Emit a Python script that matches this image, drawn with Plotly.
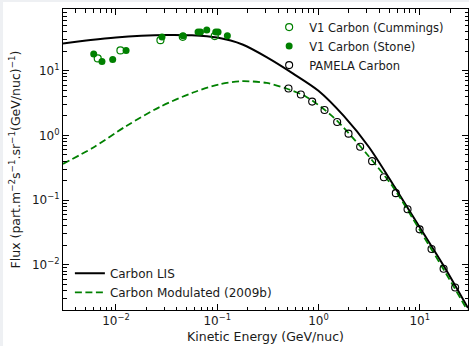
import plotly.graph_objects as go

# Carbon local interstellar spectrum (kinetic energy per nucleon, flux)
lis_energy = [0.003, 0.00562, 0.01, 0.01778, 0.03162, 0.05623, 0.1, 0.1778, 0.3162,
              0.5623, 1.0, 1.778, 3.162, 5.623, 10.0, 17.78, 30.0]
lis_flux = [26.3, 29.8, 32.7, 34.7, 35.7, 35.3, 32.5, 25.4, 15.8,
            9.02, 4.90, 2.00, 0.656, 0.162, 0.0380, 0.00891, 0.00214]

# Carbon spectrum modulated to 2009 conditions
mod_energy = [0.003, 0.00593, 0.01268, 0.0271, 0.0578, 0.106, 0.174, 0.307,
              0.483, 0.762, 1.40, 2.99, 5.47, 9.98, 17.2, 30.0]
mod_flux = [0.363, 0.646, 1.40, 2.75, 4.60, 6.18, 6.89, 6.47,
            5.31, 3.93, 1.92, 0.521, 0.158, 0.0347, 0.00851, 0.00191]

# Voyager 1 carbon (Cummings et al.)
cummings_energy = [0.00661, 0.01107, 0.0275, 0.0457, 0.0946]
cummings_flux = [15.5, 20.6, 29.7, 33.4, 34.3]

# Voyager 1 carbon (Stone et al.)
stone_energy = [0.00603, 0.00728, 0.00929, 0.01259, 0.0285, 0.0460,
                0.0647, 0.0684, 0.0789, 0.0968, 0.102, 0.126]
stone_flux = [18.2, 13.9, 14.9, 20.6, 33.1, 34.7,
              39.6, 39.6, 42.5, 39.6, 39.6, 34.7]

# PAMELA carbon
pamela_energy = [0.506, 0.670, 0.867, 1.148, 1.531, 1.982, 2.582, 3.388,
                 4.426, 5.808, 7.586, 9.977, 13.09, 17.22, 22.39]
pamela_flux = [5.31, 4.29, 3.33, 2.47, 1.61, 1.064, 0.668, 0.400,
               0.226, 0.128, 0.0721, 0.0353, 0.0175, 0.00867, 0.00446]

major_ticks = [0.01, 0.1, 1, 10]
x_tick_labels = ["10<sup>−2</sup>", "10<sup>−1</sup>", "10<sup>0</sup>", "10<sup>1</sup>"]
y_tick_labels = ["10<sup>−2</sup>", "10<sup>−1</sup>", "10<sup>0</sup>", "10<sup>1</sup>"]

GREEN = "#008000"
TEXT = "#1a1a1a"
FONT = "DejaVu Sans"


def minor_values(lo_exp, hi_exp):
    vals = []
    for e in range(lo_exp, hi_exp + 1):
        for m in range(2, 10):
            vals.append(m * 10.0 ** e)
    return vals


fig = go.Figure()

fig.add_trace(go.Scatter(
    x=lis_energy, y=lis_flux, mode="lines", name="Carbon LIS",
    line=dict(color="black", width=2, shape="spline", smoothing=0.8),
    legend="legend2"))
fig.add_trace(go.Scatter(
    x=mod_energy, y=mod_flux, mode="lines", name="Carbon Modulated (2009b)",
    line=dict(color=GREEN, width=1.8, dash="7px,3.5px", shape="spline", smoothing=0.8),
    legend="legend2"))

fig.add_trace(go.Scatter(
    x=cummings_energy, y=cummings_flux, mode="markers", name="V1 Carbon (Cummings)",
    marker=dict(symbol="circle-open", size=7, color=GREEN, line=dict(width=1.2)),
    legend="legend"))
fig.add_trace(go.Scatter(
    x=stone_energy, y=stone_flux, mode="markers", name="V1 Carbon (Stone)",
    marker=dict(symbol="circle", size=7, color=GREEN),
    legend="legend"))
fig.add_trace(go.Scatter(
    x=pamela_energy, y=pamela_flux, mode="markers", name="PAMELA Carbon",
    marker=dict(symbol="circle-open", size=7, color="black", line=dict(width=1.1)),
    legend="legend"))

axis_common = dict(
    type="log", showgrid=False, zeroline=False,
    showline=True, linecolor="black", linewidth=1, mirror="allticks",
    ticks="inside", ticklen=6, tickwidth=1, tickcolor="black",
    tickmode="array", tickvals=major_ticks,
    tickfont=dict(family=FONT, size=12, color=TEXT),
)

fig.update_xaxes(
    **axis_common,
    range=[-2.5229, 1.4771],
    ticktext=x_tick_labels,
    minor=dict(tickmode="array", tickvals=minor_values(-3, 1), ticks="inside",
               ticklen=3.5, tickwidth=1, tickcolor="black"),
    title=dict(text="Kinetic Energy (GeV/nuc)", font=dict(family=FONT, size=12.5, color=TEXT),
               standoff=4),
)
fig.update_yaxes(
    **axis_common,
    range=[-2.699, 1.954],
    ticktext=y_tick_labels,
    minor=dict(tickmode="array", tickvals=minor_values(-3, 1), ticks="inside",
               ticklen=3.5, tickwidth=1, tickcolor="black"),
    title=dict(text="Flux (part.m<sup>−2</sup>s<sup>−1</sup>.sr<sup>−1</sup>(GeV/nuc)<sup>−1</sup>)",
               font=dict(family=FONT, size=12.5, color=TEXT), standoff=8),
)

fig.update_layout(
    width=469, height=346,
    margin=dict(l=63, r=1, t=9, b=36),
    paper_bgcolor="#eef0f3", plot_bgcolor="white",
    font=dict(family=FONT, size=12, color=TEXT),
    legend=dict(x=0.509, y=0.988, xanchor="left", yanchor="top", tracegroupgap=0,
                bgcolor="rgba(0,0,0,0)", font=dict(family=FONT, size=11.5, color=TEXT)),
    legend2=dict(x=0.017, y=0.17, xanchor="left", yanchor="top",
                 bgcolor="rgba(0,0,0,0)", font=dict(family=FONT, size=12, color=TEXT)),
    shapes=[dict(type="rect", xref="paper", yref="paper", layer="below",
                 x0=-0.148, x1=1.01, y0=-0.2, y1=1.0233,
                 fillcolor="white", line=dict(width=0))],
)

fig.write_html("out.html")
